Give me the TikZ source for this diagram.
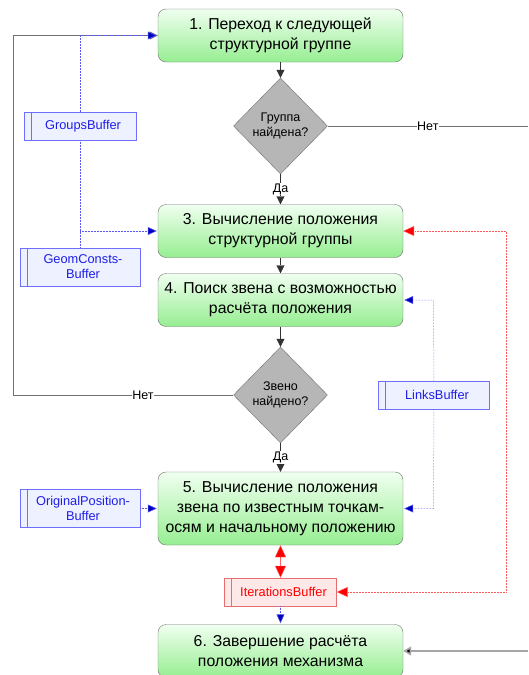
\documentclass[tikz,border=0pt]{standalone}
\usepackage{fontspec}
\setmainfont{Liberation Sans}
\usetikzlibrary{arrows.meta,positioning,shapes.geometric}

\definecolor{edgegray}{RGB}{112,112,112}
\definecolor{diafill}{RGB}{182,182,182}
\definecolor{greentop}{RGB}{240,255,240}
\definecolor{greenbot}{RGB}{150,238,145}
\definecolor{bufline}{RGB}{110,110,255}
\definecolor{buffill}{RGB}{238,241,255}
\definecolor{buftext}{RGB}{30,30,230}
\definecolor{iterline}{RGB}{230,110,110}
\definecolor{iterfill}{RGB}{255,232,232}
\definecolor{dataline}{RGB}{90,90,240}
\definecolor{feedline}{RGB}{250,90,90}

\tikzset{
    stepbox/.style={draw=edgegray, rounded corners=8pt, top color=greentop,
        bottom color=greenbot, minimum width=245pt, minimum height=53pt,
        align=center, inner sep=1pt, font=\fontsize{15.8}{20}\selectfont},
    decision/.style={diamond, draw=edgegray, fill=diafill, minimum width=94pt,
        minimum height=96pt, inner sep=0pt, align=center,
        font=\fontsize{12.5}{15}\selectfont},
    buffer/.style={draw=bufline, fill=buffill, text=buftext, align=center,
        minimum height=28pt, inner sep=1pt, font=\fontsize{12.8}{15}\selectfont,
        path picture={\draw[bufline]
            ([xshift=7pt]path picture bounding box.north west) --
            ([xshift=7pt]path picture bounding box.south west);}},
    answer/.style={fill=white, inner sep=0.5pt, font=\fontsize{12.5}{15}\selectfont},
    flow/.style={draw=black!80, -{Triangle[length=8pt,width=8pt]}},
    loop/.style={draw=edgegray},
    link/.style={draw=dataline, densely dotted, line width=0.5pt},
    data/.style={link, -{Triangle[length=9pt,width=8pt,fill=blue!75!black,sep]}},
    feed/.style={draw=feedline, densely dotted, line width=0.5pt,
        -{Triangle[length=11pt,width=10pt,fill=red]}},
}

\begin{document}
\begin{tikzpicture}[x=1pt,y=-1pt,node distance=90pt,on grid]
    \useasboundingbox (0,0) rectangle (528,675);

    \node[stepbox]  (box_1) at (280.5,35.5) {1. Переход к следующей\\структурной группе};
    \node[decision] (dia_1) [below=90.5pt of box_1] {Группа\\найдена?};
    \node[stepbox]  (box_3) [below=105pt of dia_1]  {3. Вычисление положения\\структурной группы};
    \node[stepbox]  (box_4) [below=69pt of box_3]   {4. Поиск звена с возможностью\\расчёта положения};
    \node[decision] (dia_2) [below=95pt of box_4]   {Звено\\найдено?};
    \node[stepbox, minimum height=73pt]
                    (box_5) [below=113.5pt of dia_2] {5. Вычисление положения\\звена по известным точкам-\\осям и начальному положению};
    \node[buffer, minimum width=112pt, draw=iterline, fill=iterfill, text=red,
        path picture={\draw[iterline]
            ([xshift=7pt]path picture bounding box.north west) --
            ([xshift=7pt]path picture bounding box.south west);}]
                    (iter)  [below=83.5pt of box_5]  {\hspace*{6pt}IterationsBuffer};
    \node[stepbox]  (box_6) [below=59pt of iter]     {6. Завершение расчёта\\положения механизма};

    \node[buffer, minimum width=112pt] (groups) [left=200.5pt of dia_1] {\hspace*{6pt}GroupsBuffer};
    \node[buffer, minimum width=120pt, minimum height=38pt]
                    (geom)  [below=141pt of groups] {\hspace*{6pt}GeomConsts-\\\hspace*{6pt}Buffer};
    \node[buffer, minimum width=111pt] (links) [right=153.5pt of dia_2] {\hspace*{6pt}LinksBuffer};
    \node[buffer, minimum width=120pt, minimum height=38pt]
                    (orig)  [left=200.5pt of box_5] {\hspace*{6pt}OriginalPosition-\\\hspace*{6pt}Buffer};

    \coordinate (no_1)  at (528,126);
    \coordinate (in_6)  at (528,651);
    \coordinate (back)  at (13,395);
    \coordinate (top)   at (13,35.5);
    \coordinate (grp_t) at (80,35.5);
    \coordinate (grp_b) at (80,231);
    \coordinate (lnk_t) at (433.5,300);
    \coordinate (lnk_b) at (433.5,508.5);
    \coordinate (red_t) at (506,231);
    \coordinate (red_b) at (506,592);

    % main flow
    \draw[flow] (box_1) -- (dia_1);
    \draw[flow] (dia_1) -- node[answer] {Да} (box_3);
    \draw[flow] (box_3) -- (box_4);
    \draw[flow] (box_4) -- (dia_2);
    \draw[flow] (dia_2) -- node[answer] {Да} (box_5);
    \draw[loop] (dia_1) -- node[answer] {Нет} (no_1);
    \draw[loop] (dia_2) -- node[answer, pos=0.41] {Нет} (back) -- (top);
    \draw[flow, draw=edgegray] (top) -- (box_1);
    \draw[draw=black!35, line width=1.6pt, -{Triangle[length=8pt,width=9pt,fill=black]}]
        (in_6) -- (box_6);

    % buffers
    \draw[data] (groups) -- (grp_t) -- (box_1);
    \draw[link] (groups) -- (geom);
    \draw[data] (grp_b) -- (box_3);
    \draw[data] (links) -- (lnk_t) -- (box_4);
    \draw[data] (links) -- (lnk_b) -- (box_5);
    \draw[data] (orig) -- (box_5);
    \draw[data] (iter) -- (box_6);
    \draw[feed] (red_b) -- (red_t) -- (box_3);
    \draw[feed] (red_b) -- (iter);
    \draw[draw=red!60, {Triangle[length=12pt,width=11pt,fill=red]}-{Triangle[length=12pt,width=11pt,fill=red]}]
        (box_5) -- (iter);
\end{tikzpicture}
\end{document}
